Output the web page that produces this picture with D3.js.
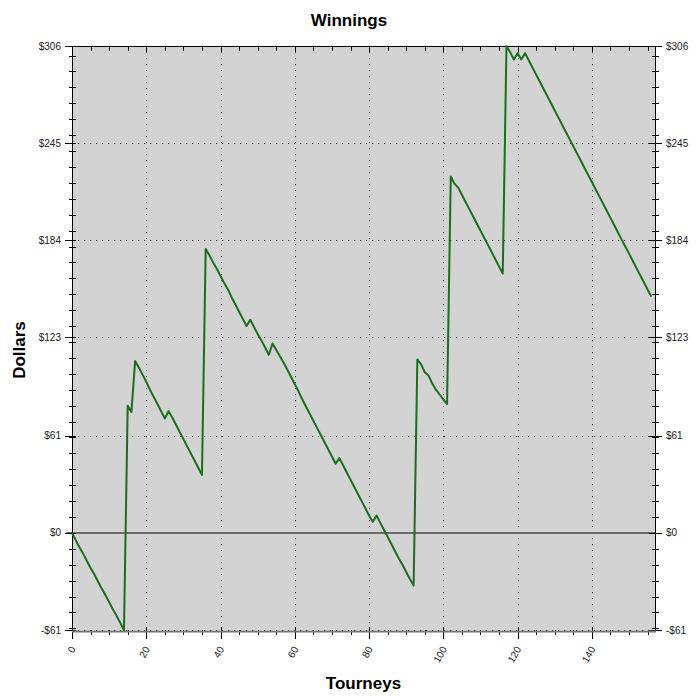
<!DOCTYPE html>
<html>
<head>
<meta charset="utf-8">
<script src="https://cdn.jsdelivr.net/npm/d3@7"></script>
<style>
  html, body { margin: 0; padding: 0; background: #fff; }
  svg { display: block; }
  text { font-family: "Liberation Sans", Arial, sans-serif; }
</style>
</head>
<body>
<svg id="chart" width="700" height="696"></svg>
<script>
// ---- data ----
const chartTitle = "Winnings";
const xTitle = "Tourneys";
const yTitle = "Dollars";
const winnings = [
  0, -4.5, -9, -13, -17.5, -22, -26, -30.5, -35, -39,
  -43.5, -48, -52, -56.5, -61, 80, 76, 108, 104, 99.5,
  95, 90, 85.5, 81, 76.5, 72, 76.5, 72.5, 68, 63.5,
  59, 54.5, 50, 45.5, 41, 36.5, 178.5, 174.5, 170, 166,
  161.5, 157, 153, 148, 143.5, 139, 134.5, 130, 134, 129.5,
  125, 121, 116.5, 112, 119, 115, 111, 107, 102.5, 98,
  93.5, 89, 84, 79.5, 75, 70.5, 66, 61.5, 57, 52.5,
  48, 43.5, 47, 42.5, 38, 33.5, 29, 24.5, 20, 15.5,
  11, 7, 11, 6.5, 2, -2.5, -7, -11.5, -16, -20,
  -24.5, -29, -33, 109, 106, 101, 99, 94, 90, 87,
  84, 81, 224, 219.5, 217, 212.5, 208, 203.5, 199, 194.5,
  190, 185.5, 181, 176.5, 172, 167.5, 163, 306, 302, 297.5,
  301.5, 297.5, 301.5, 297, 292.5, 288, 283.5, 279, 274.5, 270,
  265.5, 261, 256.5, 252, 247.5, 243, 238.5, 234, 229.5, 225,
  220.5, 216, 211.5, 207, 202.5, 198, 193.5, 189, 184.5, 180,
  175.5, 171, 166.5, 162, 157.5, 153, 148.5
];
const xTickValues = [0, 20, 40, 60, 80, 100, 120, 140];
const xTickLabels = ["0", "20", "40", "60", "80", "100", "120", "140"];
const yTickValues = [-61, 0, 61, 123, 184, 245, 306];
const yTickLabels = ["-$61", "$0", "$61", "$123", "$184", "$245", "$306"];
const xMinorStep = 5;
const yMinorStep = 10;
const xDomain = [0, 157];
const yDomain = [-61, 306];

// ---- layout ----
const L = 72, R = 655, T = 46, B = 630;
const svg = d3.select("#chart");
const x = d3.scaleLinear().domain(xDomain).range([L, R]);
const y = d3.scaleLinear().domain(yDomain).range([B, T]);

svg.append("rect").attr("x", 0).attr("y", 0).attr("width", 700).attr("height", 696).attr("fill", "#fff");
svg.append("rect").attr("x", L).attr("y", T).attr("width", R - L).attr("height", B - T).attr("fill", "#d3d3d3");

// grid
const grid = svg.append("g").attr("stroke", "#333").attr("stroke-width", 1).attr("stroke-dasharray", "1.2,4.8");
grid.selectAll("line.v").data(xTickValues.filter(v => v > 0)).join("line")
  .attr("x1", d => Math.round(x(d)) + 0.5).attr("x2", d => Math.round(x(d)) + 0.5)
  .attr("y1", T).attr("y2", B);
grid.selectAll("line.h").data(yTickValues.filter(v => v !== 0)).join("line")
  .attr("x1", L).attr("x2", R)
  .attr("y1", d => Math.round(y(d)) + 0.5).attr("y2", d => Math.round(y(d)) + 0.5);

// zero line
svg.append("line").attr("x1", L - 6).attr("x2", R).attr("y1", y(0)).attr("y2", y(0))
  .attr("stroke", "#6a6a6a").attr("stroke-width", 2);

// minor tick positions
const xMinor = d3.range(xDomain[0], xDomain[1] + 0.001, xMinorStep).filter(v => !xTickValues.includes(v));
const yMinor = d3.range(-60, yDomain[1] + 0.001, yMinorStep);

// axes lines
const ax = svg.append("g").attr("stroke", "#000").attr("stroke-width", 1);
ax.append("line").attr("x1", L + 0.5).attr("x2", L + 0.5).attr("y1", T).attr("y2", B + 8);
ax.append("line").attr("x1", R + 0.5).attr("x2", R + 0.5).attr("y1", T).attr("y2", B + 1);
ax.append("line").attr("x1", L).attr("x2", R + 1).attr("y1", T + 0.5).attr("y2", T + 0.5);
svg.append("line").attr("x1", L).attr("x2", R + 1).attr("y1", B + 1.5).attr("y2", B + 1.5)
  .attr("stroke", "#777").attr("stroke-width", 2);

// left ticks
ax.selectAll("line.lmin").data(yMinor).join("line")
  .attr("x1", L - 3).attr("x2", L + 4)
  .attr("y1", d => Math.round(y(d)) + 0.5).attr("y2", d => Math.round(y(d)) + 0.5);
ax.selectAll("line.lmaj").data(yTickValues).join("line")
  .attr("x1", L - 7).attr("x2", L + 4)
  .attr("y1", d => Math.round(y(d)) + 0.5).attr("y2", d => Math.round(y(d)) + 0.5);
// right ticks
ax.selectAll("line.rmin").data(yMinor).join("line")
  .attr("x1", R - 3).attr("x2", R + 4)
  .attr("y1", d => Math.round(y(d)) + 0.5).attr("y2", d => Math.round(y(d)) + 0.5);
ax.selectAll("line.rmaj").data(yTickValues).join("line")
  .attr("x1", R - 6).attr("x2", R + 7)
  .attr("y1", d => Math.round(y(d)) + 0.5).attr("y2", d => Math.round(y(d)) + 0.5);
// bottom ticks
ax.selectAll("line.bmin").data(xMinor).join("line")
  .attr("x1", d => Math.round(x(d)) + 0.5).attr("x2", d => Math.round(x(d)) + 0.5)
  .attr("y1", B).attr("y2", B + 5);
ax.selectAll("line.bmaj").data(xTickValues).join("line")
  .attr("x1", d => Math.round(x(d)) + 0.5).attr("x2", d => Math.round(x(d)) + 0.5)
  .attr("y1", B - 3).attr("y2", B + 9);
// top ticks
ax.selectAll("line.tmin").data(xMinor).join("line")
  .attr("x1", d => Math.round(x(d)) + 0.5).attr("x2", d => Math.round(x(d)) + 0.5)
  .attr("y1", T).attr("y2", T + 5);
ax.selectAll("line.tmaj").data(xTickValues).join("line")
  .attr("x1", d => Math.round(x(d)) + 0.5).attr("x2", d => Math.round(x(d)) + 0.5)
  .attr("y1", T).attr("y2", T + 6);

// y tick labels
const lab = svg.append("g").attr("font-size", 10).attr("fill", "#222");
lab.selectAll("text.yl").data(yTickValues).join("text")
  .attr("x", L - 11).attr("y", d => y(d)).attr("dy", "0.35em")
  .attr("text-anchor", "end").text((d, i) => yTickLabels[i]);
lab.selectAll("text.yr").data(yTickValues).join("text")
  .attr("x", R + 11).attr("y", d => y(d)).attr("dy", "0.35em")
  .attr("text-anchor", "start").text((d, i) => yTickLabels[i]);
// x tick labels (rotated)
lab.selectAll("text.xl").data(xTickValues).join("text")
  .attr("transform", d => `translate(${x(d) + 4},${B + 19}) rotate(-60)`)
  .attr("text-anchor", "end").text((d, i) => xTickLabels[i]);

// series line
const line = d3.line().x((d, i) => x(i)).y(d => y(d));
svg.append("path").datum(winnings).attr("d", line)
  .attr("fill", "none").attr("stroke", "#1b6e1b").attr("stroke-width", 2)
  .attr("stroke-linejoin", "round");

// titles
svg.append("text").attr("x", 349).attr("y", 26).attr("text-anchor", "middle")
  .attr("font-size", 17).attr("font-weight", "bold").attr("fill", "#000").text(chartTitle);
svg.append("text").attr("x", (L + R) / 2).attr("y", 689).attr("text-anchor", "middle")
  .attr("font-size", 17).attr("font-weight", "bold").attr("fill", "#000").text(xTitle);
svg.append("text").attr("transform", "translate(25,350) rotate(-90)").attr("text-anchor", "middle")
  .attr("font-size", 17).attr("font-weight", "bold").attr("fill", "#000").text(yTitle);
</script>
</body>
</html>
